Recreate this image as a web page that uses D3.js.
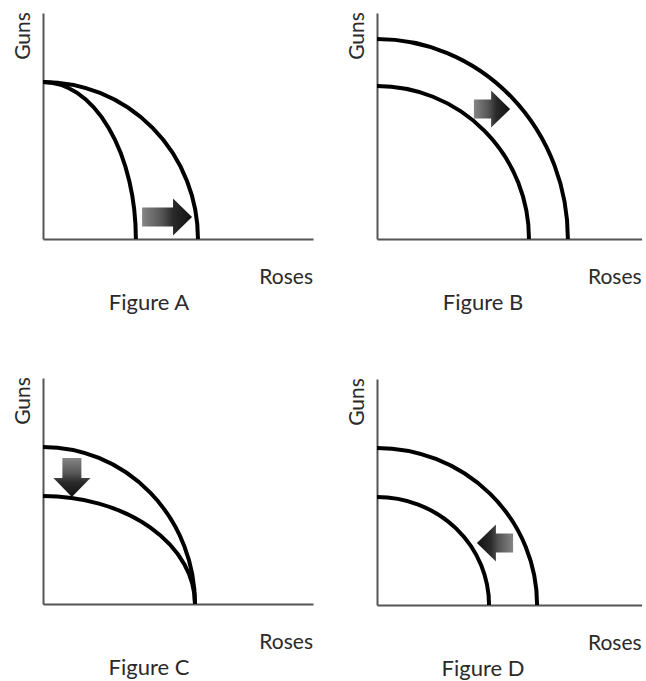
<!DOCTYPE html>
<html>
<head>
<meta charset="utf-8">
<script src="https://cdn.jsdelivr.net/npm/d3@7"></script>
<style>
  html, body { margin: 0; padding: 0; background: #fff; }
  svg { display: block; }
  text { font-family: Lato, "Open Sans", sans-serif; fill: #2a2a2a; }
</style>
</head>
<body>
<svg id="chart" width="646" height="681"></svg>
<script>
// ---------- data (units: Roses on x, Guns on y; 1 unit = 27px x, 22.6px y) ----------
const panels = ["Figure A", "Figure B", "Figure C", "Figure D"];
const xLabel = "Roses";
const yLabel = "Guns";
// each curve: [guns intercept, roses intercept]
const curvesA = [[6.95, 3.44], [6.95, 5.74]];
const curvesB = [[6.77, 5.63], [8.85, 7.07]];
const curvesC = [[6.95, 5.63], [4.78, 5.63]];
const curvesD = [[6.95, 5.93], [4.78, 4.15]];
// arrows: [tail roses, tail guns, tip roses, tip guns]
const arrowA = [3.67, 0.97, 5.52, 0.97];
const arrowB = [3.59, 5.75, 4.93, 5.75];
const arrowC = [1.07, 6.46, 1.07, 4.73];
const arrowD = [5.04, 2.74, 3.70, 2.74];
// axis extents (units)
const xMax = [10, 9.8, 10, 9.8];
const yMax = [10, 10, 10, 10];

// ---------- layout ----------
const offsets = [[43, 13], [377, 13], [43, 378], [377, 379]];
const curveSets = [curvesA, curvesB, curvesC, curvesD];
const arrows = [arrowA, arrowB, arrowC, arrowD];

const svg = d3.select("#chart");
const defs = svg.append("defs");

panels.forEach((name, i) => {
  const [ox, oy] = offsets[i];
  const W = xMax[i] * 27, H = yMax[i] * 22.6;
  const x = d3.scaleLinear().domain([0, xMax[i]]).range([0, W]);
  const y = d3.scaleLinear().domain([0, yMax[i]]).range([H, 0]);
  const g = svg.append("g").attr("transform", `translate(${ox},${oy})`);

  // axes (domain lines only)
  const ax = g.append("g").attr("transform", `translate(0,${H})`)
    .call(d3.axisBottom(x).ticks(0).tickSizeOuter(0));
  const ay = g.append("g")
    .call(d3.axisLeft(y).ticks(0).tickSizeOuter(0));
  [ax, ay].forEach(a => a.select(".domain").attr("stroke", "#555").attr("stroke-width", 2));

  // PPF curves as quarter ellipses
  curveSets[i].forEach(([gi, ri]) => {
    const rx = x(ri) - x(0), ry = y(0) - y(gi);
    g.append("path")
      .attr("d", `M${x(0)},${y(gi)} A${rx},${ry} 0 0 1 ${x(ri)},${y(0)}`)
      .attr("fill", "none")
      .attr("stroke", "#000")
      .attr("stroke-width", 4);
  });

  // arrow
  const [tx, ty, hx, hy] = arrows[i];
  const x0 = x(tx), y0 = y(ty), x1 = x(hx), y1 = y(hy);
  const len = Math.hypot(x1 - x0, y1 - y0);
  const ang = Math.atan2(y1 - y0, x1 - x0) * 180 / Math.PI;
  const bh = 9.5, hh = 18.5, hl = 19;
  const gid = "grad" + i;
  const grad = defs.append("linearGradient").attr("id", gid)
    .attr("gradientUnits", "userSpaceOnUse")
    .attr("x1", 0).attr("y1", 0).attr("x2", len).attr("y2", 0);
  grad.append("stop").attr("offset", 0).attr("stop-color", "#858585");
  grad.append("stop").attr("offset", 0.4).attr("stop-color", "#555");
  grad.append("stop").attr("offset", 0.62).attr("stop-color", "#2a2a2a");
  grad.append("stop").attr("offset", 1).attr("stop-color", "#111");
  const p = d3.path();
  p.moveTo(0, -bh);
  p.lineTo(len - hl, -bh);
  p.lineTo(len - hl, -hh);
  p.lineTo(len, 0);
  p.lineTo(len - hl, hh);
  p.lineTo(len - hl, bh);
  p.lineTo(0, bh);
  p.closePath();
  g.append("path")
    .attr("transform", `translate(${x0},${y0}) rotate(${ang})`)
    .attr("d", p.toString())
    .attr("fill", `url(#${gid})`);

  // labels
  g.append("text")
    .attr("x", W).attr("y", H + 45)
    .attr("text-anchor", "end")
    .attr("font-size", 21)
    .text(xLabel);
  g.append("text")
    .attr("transform", `translate(-13,23) rotate(-90)`)
    .attr("text-anchor", "middle")
    .attr("font-size", 21)
    .text(yLabel);
  g.append("text")
    .attr("x", 106).attr("y", H + 71)
    .attr("text-anchor", "middle")
    .attr("font-size", 22)
    .text(name);
});
</script>
</body>
</html>
